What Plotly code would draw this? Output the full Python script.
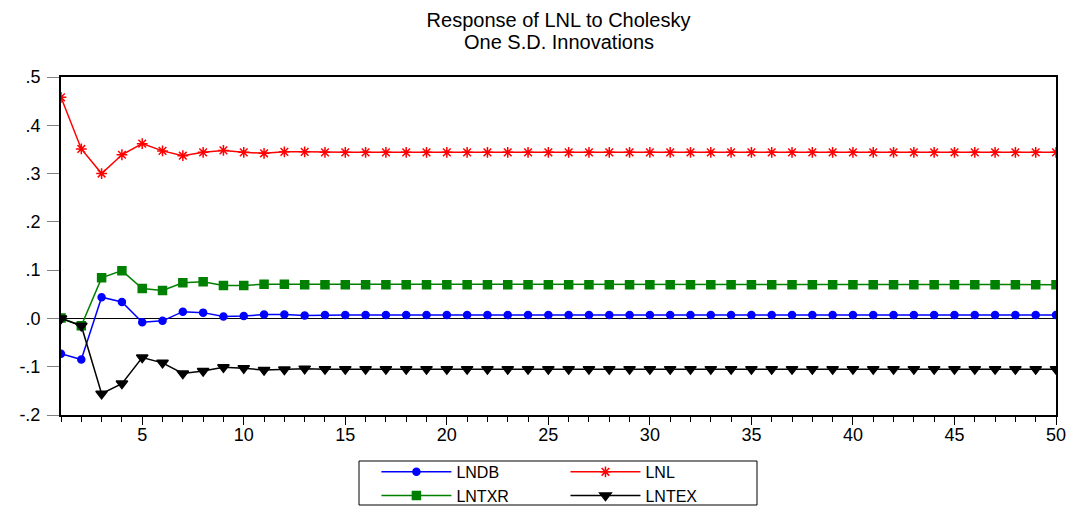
import plotly.graph_objects as go

periods = list(range(1, 51))

LNDB = [-0.073, -0.085, 0.044, 0.034, -0.008, -0.005, 0.014, 0.012, 0.004, 0.005,
        0.008, 0.008, 0.006, 0.007, 0.007, 0.007, 0.007, 0.007, 0.007, 0.007,
        0.007, 0.007, 0.007, 0.007, 0.007, 0.007, 0.007, 0.007, 0.007, 0.007,
        0.007, 0.007, 0.007, 0.007, 0.007, 0.007, 0.007, 0.007, 0.007, 0.007,
        0.007, 0.007, 0.007, 0.007, 0.007, 0.007, 0.007, 0.007, 0.007, 0.007]
LNL = [0.458, 0.351, 0.300, 0.339, 0.362, 0.347, 0.337, 0.344, 0.348, 0.344,
       0.342, 0.345, 0.345, 0.344, 0.344, 0.344, 0.344, 0.344, 0.344, 0.344,
       0.344, 0.344, 0.344, 0.344, 0.344, 0.344, 0.344, 0.344, 0.344, 0.344,
       0.344, 0.344, 0.344, 0.344, 0.344, 0.344, 0.344, 0.344, 0.344, 0.344,
       0.344, 0.344, 0.344, 0.344, 0.344, 0.344, 0.344, 0.344, 0.344, 0.344]
LNTXR = [0.001, -0.015, 0.084, 0.099, 0.062, 0.058, 0.074, 0.076, 0.068, 0.068,
         0.071, 0.071, 0.070, 0.070, 0.070, 0.070, 0.070, 0.070, 0.070, 0.070,
         0.070, 0.070, 0.070, 0.070, 0.070, 0.070, 0.070, 0.070, 0.070, 0.070,
         0.070, 0.070, 0.070, 0.070, 0.070, 0.070, 0.070, 0.070, 0.070, 0.070,
         0.070, 0.070, 0.070, 0.070, 0.070, 0.070, 0.070, 0.070, 0.070, 0.070]
LNTEX = [0.000, -0.015, -0.156, -0.135, -0.081, -0.092, -0.114, -0.109, -0.101, -0.103,
         -0.107, -0.106, -0.104, -0.105, -0.105, -0.105, -0.105, -0.105, -0.105, -0.105,
         -0.105, -0.105, -0.105, -0.105, -0.105, -0.105, -0.105, -0.105, -0.105, -0.105,
         -0.105, -0.105, -0.105, -0.105, -0.105, -0.105, -0.105, -0.105, -0.105, -0.105,
         -0.105, -0.105, -0.105, -0.105, -0.105, -0.105, -0.105, -0.105, -0.105, -0.105]

y_tickvals = [-0.2, -0.1, 0.0, 0.1, 0.2, 0.3, 0.4, 0.5]
y_ticktext = ["-.2", "-.1", ".0", ".1", ".2", ".3", ".4", ".5"]
x_tickvals = [5, 10, 15, 20, 25, 30, 35, 40, 45, 50]

FONT = "Liberation Sans, Arial, Helvetica, sans-serif"

series = [
    ("LNDB", LNDB, "#0000ff", "circle", 7, "legend"),
    ("LNTXR", LNTXR, "#008000", "square", 8, "legend"),
    ("LNL", LNL, "#ff0000", "asterisk-open", 9, "legend2"),
    ("LNTEX", LNTEX, "#000000", "triangle-down", 10, "legend2"),
]

fig = go.Figure()
for name, vals, color, sym, size, leg in series:
    fig.add_trace(go.Scatter(
        x=periods, y=vals, name=name, mode="lines+markers",
        line=dict(color=color, width=1.5),
        marker=dict(symbol=sym, size=size, color=color,
                    line=dict(color=color, width=1.5)),
        legend=leg,
    ))

legend_common = dict(
    orientation="v", xanchor="left", yanchor="top",
    font=dict(family=FONT, size=16, color="black"),
    bgcolor="rgba(0,0,0,0)", borderwidth=0, itemwidth=70,
    tracegroupgap=0,
)

fig.update_layout(
    width=1073, height=508,
    margin=dict(l=61, r=17, t=77, b=93, autoexpand=False),
    paper_bgcolor="white", plot_bgcolor="white",
    font=dict(family=FONT, color="black"),
    title=dict(text="Response of LNL to Cholesky", x=0.5, xref="paper", xanchor="center",
               y=1 - 19.5 / 508, yanchor="middle", yref="container",
               font=dict(family=FONT, size=20, color="black")),
    showlegend=True,
    legend=dict(x=0.317, y=-0.118, **legend_common),
    legend2=dict(x=0.507, y=-0.118, **legend_common),
    annotations=[dict(text="One S.D. Innovations", xref="paper", yref="paper",
                      x=0.5, y=(415 - 42) / 338, xanchor="center", yanchor="middle",
                      showarrow=False, font=dict(family=FONT, size=20, color="black"))],
    shapes=[dict(type="rect", xref="paper", yref="paper",
                 x0=(359 - 61) / 995, x1=(757 - 61) / 995,
                 y0=(415 - 461) / 338, y1=(415 - 505) / 338,
                 line=dict(color="black", width=1), fillcolor="rgba(0,0,0,0)")],
)

fig.update_xaxes(
    range=[1, 50], tickmode="array", tickvals=x_tickvals,
    ticks="outside", ticklen=8, tickwidth=1, tickcolor="black",
    minor=dict(dtick=1, tick0=0, ticks="outside", ticklen=5, tickcolor="black", showgrid=False),
    showgrid=False, zeroline=False,
    showline=True, linecolor="black", linewidth=2, mirror=True,
    tickfont=dict(family=FONT, size=18, color="black"),
    ticklabelstandoff=-6,
)
fig.update_yaxes(
    range=[-0.2, 0.5], tickmode="array", tickvals=y_tickvals, ticktext=y_ticktext,
    ticks="outside", ticklen=12, tickwidth=1, tickcolor="#808080",
    showgrid=False, zeroline=True, zerolinecolor="black", zerolinewidth=1,
    showline=True, linecolor="black", linewidth=2, mirror=True,
    tickfont=dict(family=FONT, size=18, color="black"),
    ticklabelstandoff=3,
)

fig.write_html("out.html", config={"displayModeBar": False},
               post_script="document.body.style.margin='0px';document.body.style.overflow='hidden';")
